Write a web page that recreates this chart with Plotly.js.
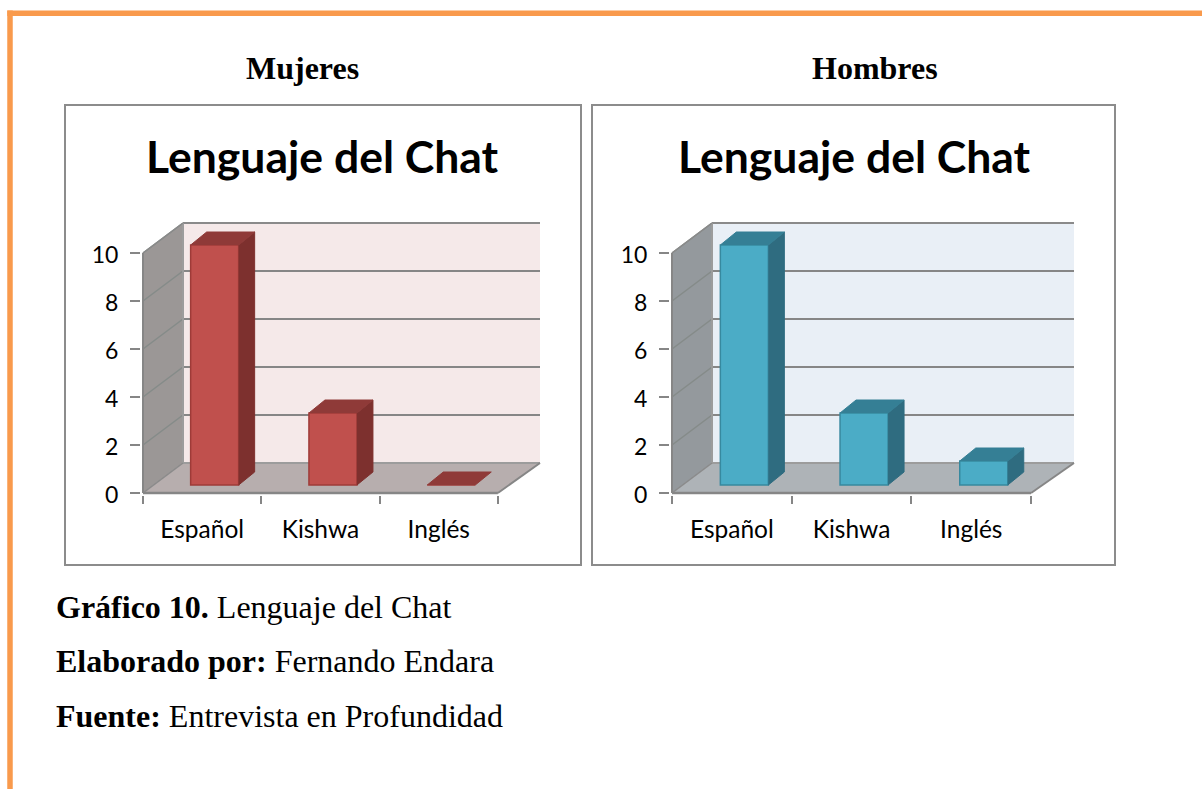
<!DOCTYPE html>
<html><head><meta charset="utf-8">
<script src="https://cdn.plot.ly/plotly-3.0.1.min.js"></script>
<style>html,body{margin:0;padding:0;background:#fff}#g{width:1202px;height:789px}</style>
</head><body><div id="g"></div>
<script>
const categories = ['Español', 'Kishwa', 'Inglés'];
const mujeres = [10, 3, 0];
const hombres = [10, 3, 1];
const yTicks = [0, 2, 4, 6, 8, 10];
const W = 1202, H = 789, PAD = 2;
const Y0 = 493, UNIT = 24, DEPTH_X = 40, DEPTH_Y = 30;
const BAR_W = 48, BAR_SHIFT_X = 12.5, BAR_SHIFT_Y = 8, BAR_DX = 16, BAR_DY = 13;
const YMAX = (Y0 - 223) / UNIT;

const panels = [
  {suffix: '', values: mujeres, left: 143, catW: 118.3, right: 540, face: '#c0504d', top: '#8f3a38', side: '#7d302e', edge: '#9e3b38',
   wall: '#9b9796', floor: '#b7aeae', back: '#f5e9e9', frame: [65, 105, 581, 565], title: 'Mujeres', tx: 302, cx: 322.5},
  {suffix: '2', values: hombres, left: 672, catW: 119.7, right: 1074, face: '#4bacc6', top: '#357f95', side: '#2f6c80', edge: '#37899f',
   wall: '#94999d', floor: '#aeb3b7', back: '#e9eff6', frame: [592, 105, 1115, 565], title: 'Hombres', tx: 875, cx: 854}
];

const traces = [], shapes = [], annotations = [];
const layout = {
  width: W, height: H, margin: {l: 0, r: 0, t: 0, b: 0}, showlegend: false,
  paper_bgcolor: '#fff', plot_bgcolor: 'rgba(0,0,0,0)', bargap: 0,
  font: {family: 'Lato, sans-serif', color: '#000'}
};

// outer orange border
shapes.push({type: 'line', xref: 'paper', yref: 'paper', x0: 10 / W, x1: 10 / W, y0: 0, y1: 1 - 10.5 / H, line: {color: '#f99a4c', width: 5.5}, layer: 'below'});
shapes.push({type: 'line', xref: 'paper', yref: 'paper', x0: 7.3 / W, x1: 1, y0: 1 - 13.2 / H, y1: 1 - 13.2 / H, line: {color: '#f99a4c', width: 5.5}, layer: 'below'});

function text(t, x, y, size, family, anchor) {
  annotations.push({text: t, xref: 'paper', yref: 'paper', x: x / W, y: 1 - y / H, xanchor: anchor || 'center', yanchor: 'middle',
    showarrow: false, font: {family: family, size: size, color: '#000'}});
}

panels.forEach(p => {
  const xa = 'x' + p.suffix, ya = 'y' + p.suffix;
  const ux = DEPTH_X / p.catW, uy = DEPTH_Y / UNIT;      // wall depth in data units
  const x0 = -0.5, xF = x0 + categories.length, xB = x0 + (p.right - p.left) / p.catW;
  const bw = BAR_W / p.catW, sx = BAR_SHIFT_X / p.catW, base = BAR_SHIFT_Y / UNIT;
  const dx = BAR_DX / p.catW, dy = BAR_DY / UNIT;

  // frame
  const f = p.frame;
  shapes.push({type: 'rect', xref: 'paper', yref: 'paper', x0: f[0] / W, x1: f[2] / W, y0: 1 - f[1] / H, y1: 1 - f[3] / H,
    line: {color: '#8c8c8c', width: 2}, fillcolor: '#fff', layer: 'below'});

  const poly = (pts, fill) => shapes.push({type: 'path', xref: xa, yref: ya, layer: 'below', fillcolor: fill, line: {width: 0},
    path: 'M' + pts.map(q => q[0] + ',' + q[1]).join('L') + 'Z'});
  const seg = (a, b, color, w) => shapes.push({type: 'line', xref: xa, yref: ya, layer: 'below', x0: a[0], y0: a[1], x1: b[0], y1: b[1], line: {color: color, width: w}});

  poly([[x0 + ux, uy], [xB, uy], [xB, YMAX], [x0 + ux, YMAX]], p.back);
  poly([[x0, 0], [x0 + ux, uy], [x0 + ux, YMAX], [x0, 10]], p.wall);
  poly([[x0, 0], [xF, 0], [xB, uy], [x0 + ux, uy]], p.floor);

  yTicks.forEach(v => {
    if (v > 0) seg([x0, v], [x0 + ux, v + uy], '#858b89', 1.5);
    if (v > 0 && v < 10) seg([x0 + ux, v + uy], [xB, v + uy], '#868686', 2);
  });
  seg([x0 + ux, uy], [xB, uy], '#9c9c9c', 2);
  seg([x0 + ux, YMAX], [xB, YMAX], '#8a8a8a', 2);
  seg([x0 + ux, uy], [x0 + ux, YMAX], '#9c9c9c', 2);
  seg([x0, 10], [x0 + ux, YMAX], '#8a8a8a', 1.5);
  seg([x0, 0], [x0, 10], '#868686', 2);
  seg([x0, 0], [x0 + ux, uy], '#8a8a8a', 1.5);
  seg([x0, 0], [xF, 0], '#868686', 2.5);
  seg([xF, 0], [xB, uy], '#868686', 2);

  const centers = categories.map((_, i) => i);
  // front faces
  traces.push({type: 'bar', xaxis: xa, yaxis: ya, x: centers.map(c => c + sx), y: p.values, base: base, width: bw,
    marker: {color: p.face, line: {color: p.edge, width: 1.5}}, hoverinfo: 'skip'});

  // side and top faces derived from the values
  const sideX = [], sideY = [], topX = [], topY = [];
  p.values.forEach((v, i) => {
    const l = i + sx - bw / 2, r = i + sx + bw / 2, t = base + v;
    if (v > 0) {
      sideX.push(r, r + dx, r + dx, r, null);
      sideY.push(base, base + dy, t + dy, t, null);
    }
    topX.push(l, l + dx, r + dx, r, null);
    topY.push(t, t + dy, t + dy, t, null);
  });
  const face = (xs, ys, color) => traces.push({type: 'scatter', mode: 'lines', xaxis: xa, yaxis: ya, x: xs, y: ys, fill: 'toself',
    fillcolor: color, line: {color: color, width: 1}, hoverinfo: 'skip', cliponaxis: false});
  face(sideX, sideY, p.side);
  face(topX, topY, p.top);

  // axes
  layout['xaxis' + p.suffix] = {
    domain: [(p.left - PAD) / W, (p.right + PAD) / W], anchor: ya, fixedrange: true,
    range: [x0 - PAD / p.catW, xB + PAD / p.catW], tickmode: 'array', tickvals: centers, ticktext: categories,
    ticks: '', showgrid: false, zeroline: false, showline: false, ticklabelstandoff: 17,
    tickfont: {family: 'Lato, sans-serif', size: 24.5, color: '#000'},
    minor: {tickmode: 'array', tickvals: [-0.5, 0.5, 1.5, 2.5], ticks: 'outside', ticklen: 8, tickwidth: 2, tickcolor: '#868686', showgrid: false}
  };
  layout['yaxis' + p.suffix] = {
    domain: [1 - (Y0 + PAD) / H, 1 - (223 - PAD) / H], anchor: xa, fixedrange: true,
    range: [-PAD / UNIT, YMAX + PAD / UNIT], tickmode: 'array', tickvals: yTicks, ticktext: yTicks.map(String),
    ticks: 'outside', ticklen: 10, tickwidth: 2, tickcolor: '#868686', showgrid: false, zeroline: false, showline: false,
    ticklabelstandoff: 7, ticklabelshift: 2, tickfont: {family: 'Lato, sans-serif', size: 23, color: '#000'}
  };

  text('<b>' + p.title + '</b>', p.tx, 68.5, 32, '"Liberation Serif", serif');
  text('<b>Lenguaje del Chat</b>', p.cx, 155.5, 44.5, 'Lato, sans-serif');
});

const S = '"Liberation Serif", serif';
text('<b>Gráfico 10.</b> Lenguaje del Chat', 54, 607, 32, S, 'left');
text('<b>Elaborado por:</b> Fernando Endara', 54, 661, 32, S, 'left');
text('<b>Fuente:</b> Entrevista en Profundidad', 54, 716, 32, S, 'left');

layout.shapes = shapes;
layout.annotations = annotations;
Plotly.newPlot('g', traces, layout, {displayModeBar: false, staticPlot: true});
</script></body></html>
